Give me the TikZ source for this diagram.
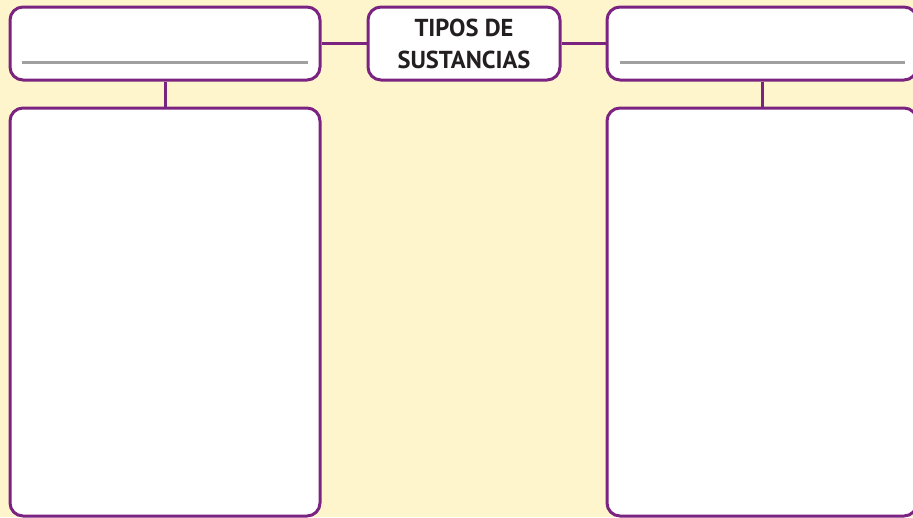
\documentclass[tikz,border=0pt]{standalone}
\usepackage{fontspec}
\setmainfont{PT Sans}
\definecolor{bgyellow}{HTML}{FFF5CC}
\definecolor{boxpurple}{HTML}{7B2381}
\definecolor{rulegray}{HTML}{A0A0A0}
\definecolor{textdark}{HTML}{231F20}
\begin{document}
\begin{tikzpicture}[x=1pt,y=-1pt,
  box/.style={draw=boxpurple, line width=3pt, fill=white, rounded corners=13pt, inner sep=0pt},
  link/.style={draw=boxpurple, line width=3pt},
  blank/.style={draw=rulegray, line width=2.6pt},
  title/.style={font=\bfseries\fontsize{24.5}{32}\selectfont, text=textdark, align=center}]
\fill[bgyellow] (0,0) rectangle (913,517);
\useasboundingbox (0,0) rectangle (913,517);
\node[box, minimum width=310pt, minimum height=73pt] (lt) at (165,43.5) {};
\node[box, minimum width=192pt, minimum height=73pt, title] (ct) at (464,43.5) {TIPOS DE\\SUSTANCIAS};
\node[box, minimum width=310pt, minimum height=73pt] (rt) at (762,43.5) {};
\node[box, minimum width=310pt, minimum height=408pt] (lb) at (165,312) {};
\node[box, minimum width=310pt, minimum height=408pt] (rb) at (762,312) {};
\draw[link] (lt.east) -- (ct.west);
\draw[link] (ct.east) -- (rt.west);
\draw[link] (lt.south) -- (lb.north);
\draw[link] (rt.south) -- (rb.north);
\draw[blank] ([xshift=13pt, yshift=19pt]lt.south west) -- ([xshift=-14pt, yshift=19pt]lt.south east);
\draw[blank] ([xshift=14pt, yshift=19pt]rt.south west) -- ([xshift=-14pt, yshift=19pt]rt.south east);
\end{tikzpicture}
\end{document}
